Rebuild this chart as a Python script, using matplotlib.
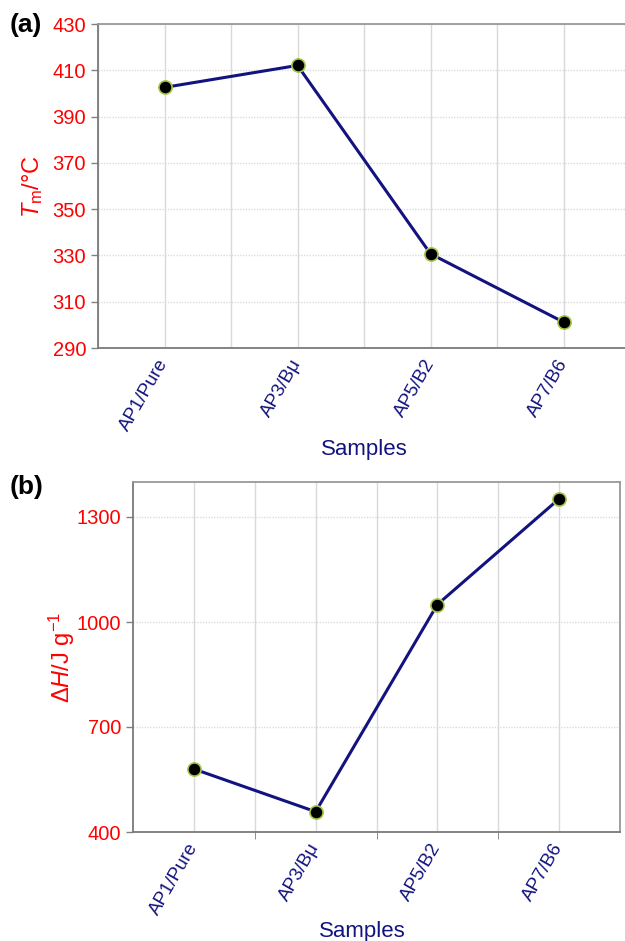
import matplotlib
matplotlib.use('Agg')
import matplotlib.pyplot as plt
from matplotlib.ticker import MultipleLocator

plt.rcParams['font.family'] = 'Liberation Sans'
plt.rcParams['mathtext.fontset'] = 'custom'
plt.rcParams['mathtext.rm'] = 'Liberation Sans'
plt.rcParams['mathtext.it'] = 'Liberation Sans:italic'

samples = ['AP1/Pure', 'AP3/B\u03bc', 'AP5/B2', 'AP7/B6']
tm_values = [402.6, 412.1, 330.7, 301.2]
dh_values = [580, 458, 1050, 1352]

NAVY = '#13137f'
RED = '#ff0000'

fig = plt.figure(figsize=(6.25, 9.41), dpi=100)

ax1 = fig.add_axes([98/625, 1-348/941, 532/625, 324/941])
ax2 = fig.add_axes([133/625, 1-832/941, 487/625, 350/941])

xpos = [i + 0.5 for i in range(len(samples))]

for ax, vals in ((ax1, tm_values), (ax2, dh_values)):
    ax.plot(xpos, vals, color=NAVY, lw=2.2, marker='o', ms=9.5,
            mfc='black', mec='#a5c84a', mew=1.2, zorder=5)
    ax.set_xlim(0, 4)
    ax.xaxis.set_minor_locator(MultipleLocator(0.5))
    ax.set_xticks(xpos)
    ax.set_xticklabels(samples, rotation=60, ha='right', va='center',
                       rotation_mode='anchor', color=NAVY, fontsize=13.5)
    ax.grid(True, axis='x', which='both', color='#d9d9d9', lw=1)
    ax.grid(True, axis='y', color='#dcdcdc', lw=1, ls=(0, (1, 1)))
    ax.set_axisbelow(True)
    ax.tick_params(axis='y', colors='#808080', labelcolor=RED, labelsize=14.5,
                   length=5, width=1)
    ax.tick_params(axis='x', which='both', length=0, pad=9)
    for side in ('left', 'bottom'):
        ax.spines[side].set_color('#7a7a7a')
        ax.spines[side].set_linewidth(1.3)
    for side in ('top', 'right'):
        ax.spines[side].set_color('#999999')
        ax.spines[side].set_linewidth(1.3)
    ax.set_xlabel('Samples', color=NAVY, fontsize=16)

ax1.set_ylim(290, 430)
ax1.set_yticks(range(290, 431, 20))
ax1.set_ylabel(r'$T_{\rm m}$/°C', color=RED, fontsize=17)
ax1.yaxis.set_label_coords(-0.100, 0.5)
ax1.xaxis.set_label_coords(0.5, -0.28)

ax2.set_ylim(400, 1400)
ax2.set_yticks([400, 700, 1000, 1300])
ax2.set_ylabel(r'$\mathrm{\Delta}H$/J g$^{-1}$', color=RED, fontsize=17)
ax2.yaxis.set_label_coords(-0.114, 0.5)
ax2.xaxis.set_label_coords(0.47, -0.255)
# bottom axis in (b) has small outward ticks at the category boundaries
ax2.set_xticks([1, 2, 3], minor=True)
ax2.tick_params(axis='x', which='minor', length=5, color='#7a7a7a')

fig.text(10/625, 1-25/941, '(a)', fontsize=19, fontweight='bold', va='center')
fig.text(10/625, 1-487/941, '(b)', fontsize=19, fontweight='bold', va='center')

fig.savefig('out.png', dpi=100)
